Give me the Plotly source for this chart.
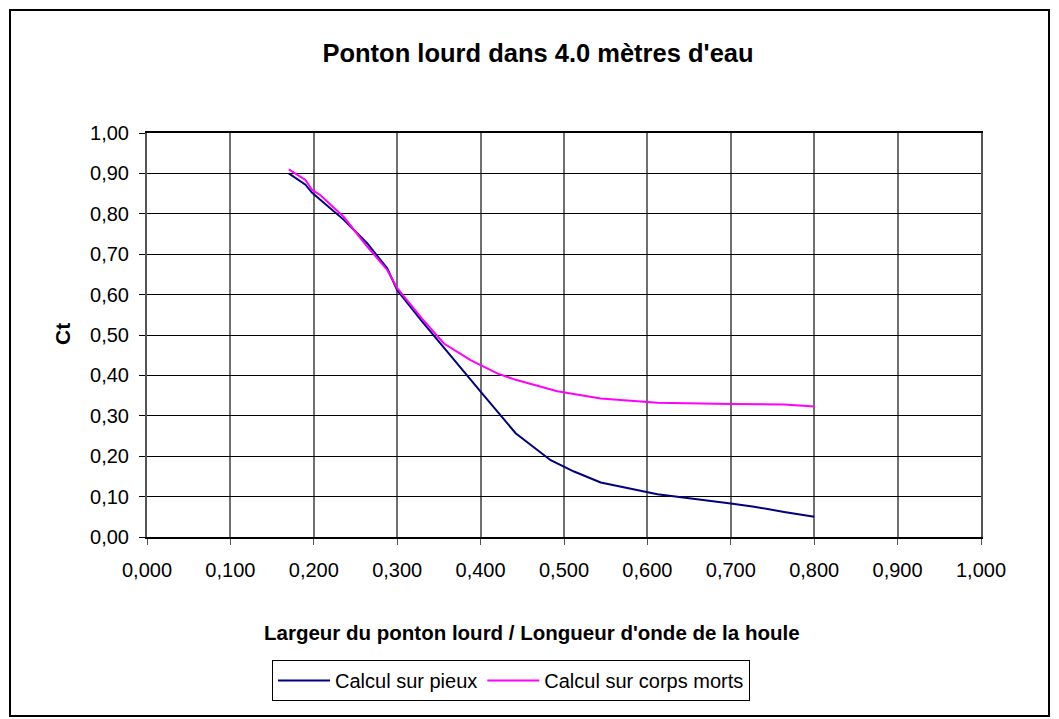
import plotly.graph_objects as go

# Data
x_pieux = [0.170, 0.190, 0.198, 0.236, 0.264, 0.288, 0.300, 0.330, 0.400, 0.442,
           0.484, 0.512, 0.544, 0.612, 0.700, 0.728, 0.764, 0.800]
ct_pieux = [0.900, 0.872, 0.852, 0.785, 0.727, 0.665, 0.611, 0.533, 0.360, 0.257,
            0.190, 0.162, 0.135, 0.106, 0.083, 0.075, 0.062, 0.050]

x_corps = [0.170, 0.190, 0.198, 0.208, 0.236, 0.264, 0.288, 0.300, 0.330, 0.356,
           0.388, 0.420, 0.442, 0.464, 0.492, 0.544, 0.612, 0.700, 0.764, 0.800]
ct_corps = [0.910, 0.884, 0.859, 0.846, 0.792, 0.719, 0.661, 0.616, 0.540, 0.479,
            0.438, 0.405, 0.389, 0.376, 0.361, 0.343, 0.332, 0.329, 0.328, 0.323]

series_names = ["Calcul sur pieux", "Calcul sur corps morts"]
title_text = "Ponton lourd dans 4.0 mètres d'eau"
x_title = "Largeur du ponton lourd / Longueur d'onde de la houle"
y_title = "Ct"

# page body has an 8px margin; work in page pixels and convert
OFF = 8
PAGE_W, PAGE_H = 1059, 719
W, H = PAGE_W - OFF, PAGE_H - OFF
plot_l, plot_r, plot_t, plot_b = 147, 981, 133, 537  # page px
L = plot_l - OFF
R = W - (plot_r - OFF)
T = plot_t - OFF
B = H - (plot_b - OFF)
pw, ph = W - L - R, H - T - B

def px(x):
    return (x - plot_l) / pw

def py(y):
    return (plot_b - y) / ph

FONT = "Liberation Sans, Arial, sans-serif"

fig = go.Figure()
fig.add_trace(go.Scatter(x=x_pieux, y=ct_pieux, mode="lines", name=series_names[0],
                         line=dict(color="#000080", width=2)))
fig.add_trace(go.Scatter(x=x_corps, y=ct_corps, mode="lines", name=series_names[1],
                         line=dict(color="#FF00FF", width=2)))

fig.update_layout(
    width=W, height=H,
    margin=dict(l=L, r=R, t=T, b=B),
    paper_bgcolor="white", plot_bgcolor="white",
    separators=", ",
    font=dict(family=FONT, size=20, color="black"),
    title=dict(text="<b>" + title_text + "</b>", x=(538 - OFF) / W, xref="container",
               xanchor="center", y=1 - (53 - OFF) / H, yref="container", yanchor="middle",
               font=dict(size=25.5, family=FONT, color="black")),
    showlegend=True,
    legend=dict(orientation="h", x=px(272), y=py(660), xanchor="left", yanchor="top",
                bordercolor="black", borderwidth=1, bgcolor="white",
                font=dict(size=20, family=FONT), itemwidth=52,
                tracegroupgap=0),
    xaxis=dict(range=[0, 1], dtick=0.1, tick0=0, tickformat=".3f",
               showgrid=True, gridcolor="#707070", gridwidth=1.5,
               showline=True, linecolor="black", linewidth=1.5, mirror=True,
               ticks="outside", ticklen=6, tickcolor="#555555",
               ticklabelstandoff=8, zeroline=False,
               tickfont=dict(size=20)),
    yaxis=dict(range=[0, 1], dtick=0.1, tick0=0, tickformat=".2f",
               showgrid=True, gridcolor="black", gridwidth=1,
               showline=True, linecolor="#555555", linewidth=2, mirror=True,
               ticks="outside", ticklen=6, tickcolor="black",
               ticklabelstandoff=6, zeroline=False,
               tickfont=dict(size=20)),
    shapes=[dict(type="rect", xref="paper", yref="paper",
                 x0=px(10), x1=px(1049), y0=py(716), y1=py(10),
                 line=dict(color="black", width=2), fillcolor="rgba(0,0,0,0)",
                 layer="below")],
    annotations=[
        dict(text="<b>" + x_title + "</b>", xref="paper", yref="paper",
             x=px(532), y=py(632), xanchor="center", yanchor="middle",
             showarrow=False, font=dict(size=20.5, family=FONT, color="black")),
        dict(text="<b>" + y_title + "</b>", xref="paper", yref="paper",
             x=px(62), y=py(334), xanchor="center", yanchor="middle",
             textangle=-90, showarrow=False,
             font=dict(size=21, family=FONT, color="black")),
    ],
)

fig.write_html("out.html")
